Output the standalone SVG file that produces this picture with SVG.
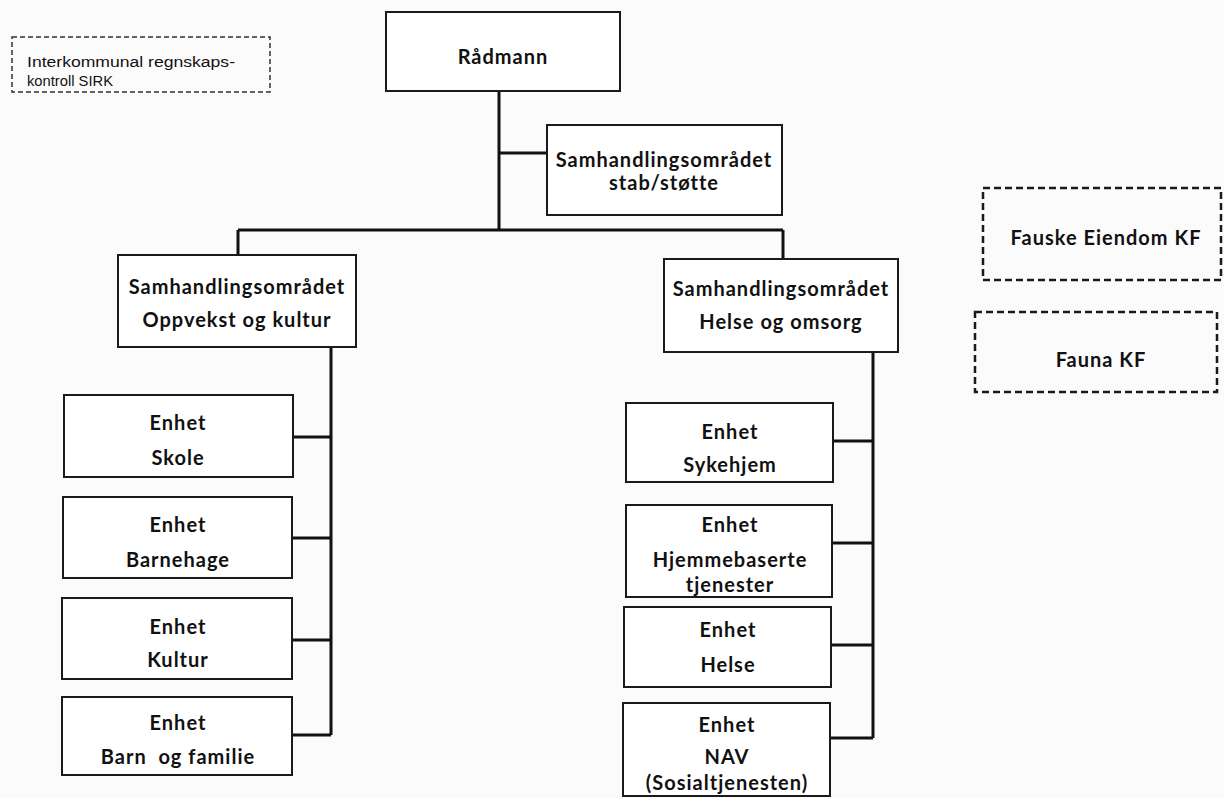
<svg xmlns="http://www.w3.org/2000/svg" width="1224" height="798" viewBox="0 0 1224 798">
<style>
.box{fill:#ffffff;stroke:#1a1a1a;stroke-width:2}
.dash{fill:none;stroke:#1a1a1a;stroke-width:2.5;stroke-dasharray:7 4}
.dashs{fill:none;stroke:#333;stroke-width:1.5;stroke-dasharray:5 3}
.t{font-family:Lato,"Liberation Sans",sans-serif;font-weight:bold;font-size:20px;letter-spacing:1px;fill:#111;text-anchor:middle;white-space:pre}
.s{font-family:"Liberation Sans",Arial,sans-serif;font-size:15.5px;fill:#111}
.c{fill:none;stroke:#111;stroke-width:3}
</style>
<rect width="1224" height="798" fill="#fcfbfc"/>
<g id="connectors">
<path class="c" d="M499 91V230M499 153H547M238 230H783M238 230V255M783 230V259"/>
<path class="c" d="M331 347V735M293 437H331M292 538H331M292 640H331M292 735H331"/>
<path class="c" d="M873 352V738M833 441H873M832 543H873M831 645H873M830 738H873"/>
</g>
<g id="sirk"><rect class="dashs" x="12" y="37" width="258" height="55"/>
<text class="s" x="27" y="67" textLength="208" lengthAdjust="spacingAndGlyphs">Interkommunal regnskaps-</text><text class="s" x="27" y="86" textLength="86" lengthAdjust="spacingAndGlyphs">kontroll SIRK</text></g>
<g id="radmann"><rect class="box" x="386" y="12" width="234" height="79"/><text class="t" x="503" y="64">Rådmann</text></g>
<g id="stab"><rect class="box" x="547" y="125" width="235" height="90"/><text class="t" x="664" y="167">Samhandlingsområdet</text><text class="t" x="664" y="190">stab/støtte</text></g>
<g id="oppvekst"><rect class="box" x="118" y="255" width="238" height="92"/><text class="t" x="237" y="294">Samhandlingsområdet</text><text class="t" x="237" y="327">Oppvekst og kultur</text></g>
<g id="helse-omsorg"><rect class="box" x="664" y="259" width="234" height="93"/><text class="t" x="781" y="296">Samhandlingsområdet</text><text class="t" x="781" y="329">Helse og omsorg</text></g>
<g id="fauske"><rect class="dash" x="983" y="188" width="238" height="92"/><text class="t" x="1106" y="245">Fauske Eiendom KF</text></g>
<g id="fauna"><rect class="dash" x="975" y="312" width="242" height="80"/><text class="t" x="1101" y="367">Fauna KF</text></g>
<g id="skole"><rect class="box" x="64" y="395" width="229" height="82"/><text class="t" x="178" y="430">Enhet</text><text class="t" x="178" y="465">Skole</text></g>
<g id="barnehage"><rect class="box" x="63" y="497" width="229" height="81"/><text class="t" x="178" y="532">Enhet</text><text class="t" x="178" y="567">Barnehage</text></g>
<g id="kultur"><rect class="box" x="62" y="598" width="230" height="81"/><text class="t" x="178" y="634">Enhet</text><text class="t" x="178" y="667">Kultur</text></g>
<g id="barn-familie"><rect class="box" x="62" y="697" width="230" height="78"/><text class="t" x="178" y="730">Enhet</text><text class="t" x="178" y="764">Barn  og familie</text></g>
<g id="sykehjem"><rect class="box" x="626" y="403" width="207" height="79"/><text class="t" x="730" y="439">Enhet</text><text class="t" x="730" y="472">Sykehjem</text></g>
<g id="hjemmebaserte"><rect class="box" x="626" y="505" width="206" height="92"/><text class="t" x="730" y="532">Enhet</text><text class="t" x="730" y="567">Hjemmebaserte</text><text class="t" x="730" y="592">tjenester</text></g>
<g id="helse"><rect class="box" x="624" y="607" width="207" height="80"/><text class="t" x="728" y="637">Enhet</text><text class="t" x="728" y="672">Helse</text></g>
<g id="nav"><rect class="box" x="623" y="703" width="207" height="93"/><text class="t" x="727" y="732">Enhet</text><text class="t" x="727" y="764">NAV</text><text class="t" x="727" y="790">(Sosialtjenesten)</text></g>
</svg>
